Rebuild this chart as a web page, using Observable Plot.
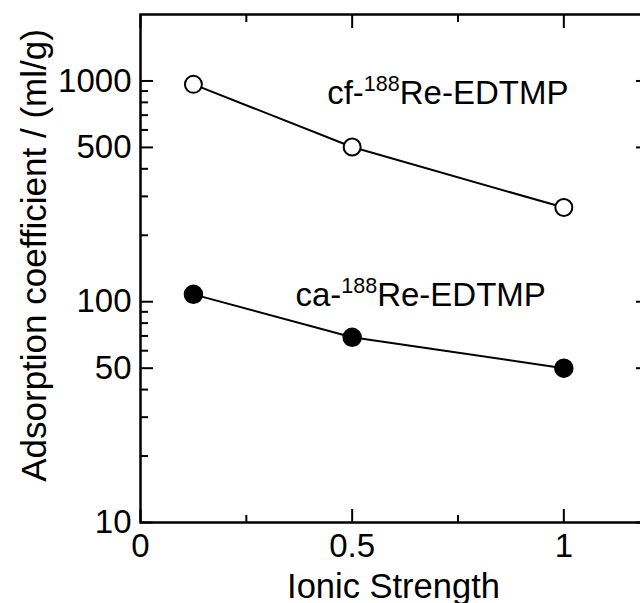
<!DOCTYPE html>
<html><head><meta charset="utf-8">
<script src="https://cdn.jsdelivr.net/npm/d3@7"></script>
<script src="https://cdn.jsdelivr.net/npm/@observablehq/plot@0.6"></script>
<style>html,body{margin:0;padding:0;overflow:hidden;background:#fff}</style>
</head><body><div id="chart"></div>
<script>
const ionicStrength = [0.125, 0.5, 1];
const cfValues = [965, 502, 267];
const caValues = [108, 69, 50];
const yMajorTicks = [10, 50, 100, 500, 1000];
const yMinorTicks = [20, 30, 40, 60, 70, 80, 90, 200, 300, 400, 600, 700, 800, 900];
const xMajorTicks = [0, 0.5, 1];
const xMinorTicks = [0.25, 0.75];
const labelPre = ["cf-", "ca-"];
const labelSup = ["188", "188"];
const labelPost = ["Re-EDTMP", "Re-EDTMP"];
const labelX = [0.441, 0.366];
const labelY = [880, 107];
const xTitle = "Ionic Strength";
const yTitle = "Adsorption coefficient / (ml/g)";

const points = ionicStrength.flatMap((x, i) => [
  {s: "cf", x, v: cfValues[i]},
  {s: "ca", x, v: caValues[i]}
]);
const labels = labelPre.map((p, i) => ({x: labelX[i], v: labelY[i], t: p + "|" + labelSup[i] + "|" + labelPost[i]}));

const font = "'Liberation Sans', Arial, Helvetica, sans-serif";
const tickAxis = (fn, anchor, ticks, size) => fn({anchor, ticks, tickSize: -size, tickFormat: () => "", label: null, strokeWidth: 2});

const plot = Plot.plot({
  width: 660, height: 603,
  marginLeft: 140, marginRight: 12, marginTop: 14, marginBottom: 81,
  style: `max-width:none;background:white;font-family:${font};color:black;`,
  x: {domain: [0, 1.2]},
  y: {type: "log", domain: [10, 2000]},
  marks: [
    Plot.line(points, {x: "x", y: "v", z: "s", stroke: "black", strokeWidth: 2}),
    Plot.dot(points.filter(d => d.s === "cf"), {x: "x", y: "v", r: 8.5, fill: "white", stroke: "black", strokeWidth: 2}),
    Plot.dot(points.filter(d => d.s === "ca"), {x: "x", y: "v", r: 9, fill: "black", stroke: "black", strokeWidth: 1.5}),
    Plot.text(labels, {x: "x", y: "v", text: "t", textAnchor: "start", lineAnchor: "middle", fontSize: 33, fill: "black", className: "anno"}),
    Plot.frame({stroke: "black", strokeWidth: 2.5}),
    tickAxis(Plot.axisY, "left", yMajorTicks, 13),
    tickAxis(Plot.axisY, "left", yMinorTicks, 8),
    tickAxis(Plot.axisY, "right", yMajorTicks, 13),
    tickAxis(Plot.axisY, "right", yMinorTicks, 8),
    tickAxis(Plot.axisX, "bottom", xMajorTicks, 13),
    tickAxis(Plot.axisX, "bottom", xMinorTicks, 7),
    tickAxis(Plot.axisX, "top", xMajorTicks, 13),
    tickAxis(Plot.axisX, "top", xMinorTicks, 7),
    Plot.axisY({anchor: "left", ticks: yMajorTicks, tickSize: 0, tickPadding: 9, fontSize: 33, label: null, tickFormat: d => String(d)}),
    Plot.axisX({anchor: "bottom", ticks: xMajorTicks, tickSize: 0, tickPadding: 11, fontSize: 33, label: null, tickFormat: d => String(d)}),
    Plot.text([xTitle], {frameAnchor: "bottom", text: d => d, textAnchor: "middle", lineAnchor: "middle", dx: -1, dy: 64, fontSize: 34.5, fill: "black"}),
    Plot.text([yTitle], {frameAnchor: "left", text: d => d, textAnchor: "middle", lineAnchor: "middle", rotate: -90, dx: -106, dy: -13, fontSize: 35, fill: "black"})
  ]
});

d3.select(plot).selectAll("g.anno text").each(function() {
  const parts = this.textContent.split("|");
  const sel = d3.select(this);
  sel.text(null);
  sel.append("tspan").text(parts[0]);
  sel.append("tspan").attr("font-size", 21.5).attr("dy", -13).text(parts[1]);
  sel.append("tspan").attr("dy", 13).text(parts[2]);
});

document.getElementById("chart").appendChild(plot);
</script>
</body></html>
